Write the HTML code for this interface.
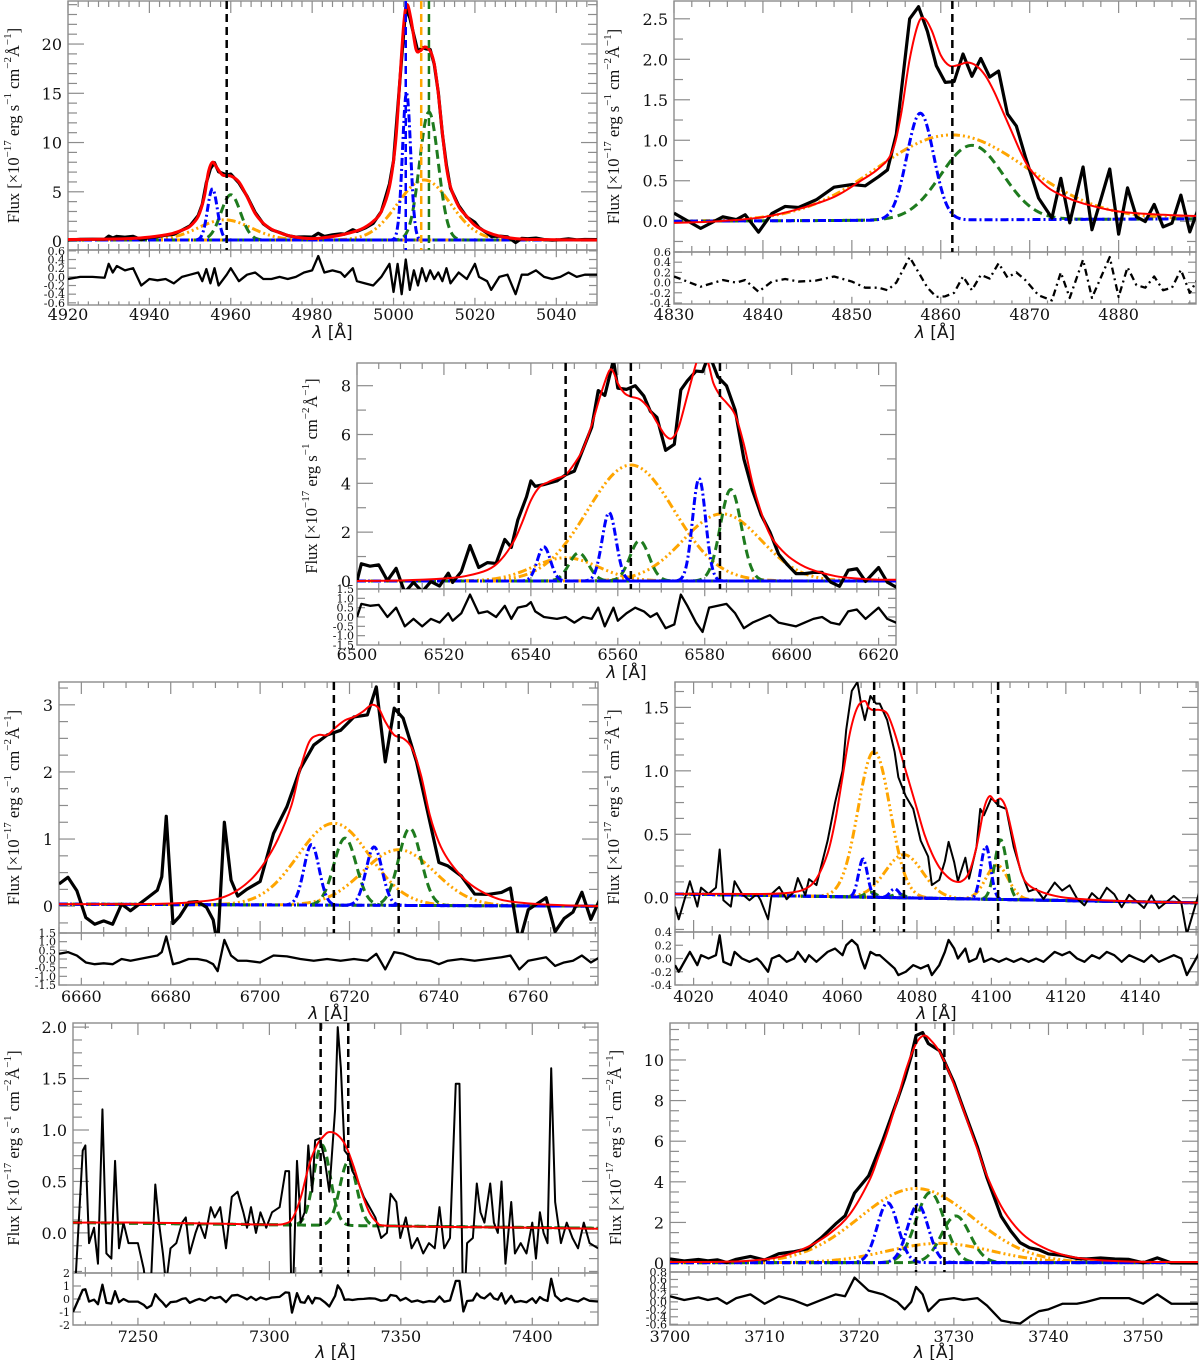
<!DOCTYPE html>
<html><head><meta charset="utf-8"><style>
html,body{margin:0;padding:0;background:#fff;}
svg{display:block;}
</style></head><body>
<svg id="chart" xmlns="http://www.w3.org/2000/svg" width="1200" height="1360" viewBox="0 0 1200 1360"></svg>
<script>
// ---------- Panel 1: [OIII] ----------
const p1ModelWl=[4920,4930,4935,4940,4945,4948,4950,4952,4953.5,4954.5,4955.5,4956.5,4958,4960,4962,4964,4966,4968,4970,4973,4976,4980,4984,4988,4992,4995,4997,4999,5000.5,5001.5,5002.5,5003.3,5004.3,5005.5,5006.5,5007.7,5009,5010,5011,5012,5013,5014,5016,5018,5020,5023,5026,5030,5035,5050];
const p1ModelFlux=[0.15,0.2,0.25,0.4,0.7,1.1,1.5,2.5,4.5,7,8.0,7.5,6.7,6.6,6.0,4.5,2.8,1.8,1.2,0.7,0.4,0.25,0.4,0.7,1.2,2.0,3.0,5.5,10,16,22,24,22.5,19.5,19.3,19.7,19.3,18,15,11,7.5,5.5,3.5,2.5,1.6,0.9,0.5,0.25,0.15,0.1];
const p1ResWl=[4920,4923,4926,4929,4930,4931,4932,4934,4936,4938,4940,4942,4944,4946,4948,4950,4952,4953,4954,4955,4956,4957,4959,4960,4962,4964,4966,4968,4970,4972,4974,4976,4978,4980,4981.5,4983,4985,4987,4988,4990,4991,4993,4995,4997,4999,5000,5001,5002,5003,5004,5005,5006,5007,5008,5009,5010,5011,5012,5013,5014,5016,5018,5020,5021,5023,5024,5026,5028,5030,5031.5,5033,5035,5037,5039,5041,5043,5045,5047,5050];
const p1Res=[-0.05,0,0,-0.02,0.3,0.1,0.25,0.15,0.2,-0.2,-0.05,-0.08,-0.05,-0.15,0,0.05,0.1,-0.1,0.18,-0.15,0.2,-0.2,0.05,0.2,-0.1,0.05,0.1,-0.05,-0.05,0,-0.05,0,0.1,0.15,0.48,0.1,0.15,0.1,0,0.2,-0.1,-0.15,-0.2,0,0.3,-0.35,0.3,-0.4,0.4,-0.3,0.15,-0.2,0.2,-0.1,0.15,-0.05,0.1,-0.1,0.2,-0.15,0.1,-0.05,0.3,0,-0.1,-0.3,0,0.05,-0.4,0.05,0.05,0.15,0,-0.05,0,0.1,0,0.05,0.05];
const p1BlueCen=[4955.5,5003.2], p1BlueAmp=[5.2,15], p1BlueSig=[1.2,1.0];
const p1GreenCen=[4960,5008.7], p1GreenAmp=[4.6,13], p1GreenSig=[2.4,2.3];
const p1OrangeCen=[4958.5,5007.5], p1OrangeAmp=[2.05,6.1], p1OrangeSig=[6.5,6.5];
const p1Cont=[0.1,0.1];
const p1Vlines=[4959,5003,5006.8,5008.7];

// ---------- Panel 2: Hbeta ----------
const p2ModelWl=[4830,4835,4840,4844,4848,4851,4853,4854.5,4855.5,4856.5,4857.5,4858.2,4859,4860,4861,4862,4863,4864,4865,4866,4867,4868,4869,4870,4872,4874,4876,4880,4885,4890,4895];
const p2ModelFlux=[-0.02,0,0.05,0.15,0.3,0.5,0.65,0.85,1.3,2.0,2.45,2.5,2.35,2.05,1.92,1.93,1.96,1.92,1.8,1.6,1.35,1.1,0.85,0.65,0.42,0.3,0.22,0.12,0.08,0.06,0.05];
const p2ResWl=[4830,4831.5,4833,4835.5,4837,4838,4839.5,4841,4842.5,4844,4846,4848,4850,4851.5,4853,4854,4855,4856.5,4857.5,4858.5,4859.5,4860.5,4861.5,4862.5,4863.5,4864.5,4865.5,4866.5,4867.5,4868.5,4869.5,4871,4872.5,4873.5,4874.5,4876,4877,4879,4880,4881,4882,4883,4884,4885,4886,4887,4888,4889];
const p2Res=[0.12,0.02,-0.08,0.05,0,0.05,-0.18,0.02,0.07,0.02,0.04,0.12,0.02,-0.1,-0.1,-0.15,0,0.5,0.2,-0.1,-0.28,-0.27,-0.2,0.12,-0.15,0.15,0.08,0.38,0.1,0.2,0.05,-0.25,-0.35,0.2,-0.3,0.45,-0.3,0.5,-0.28,0.3,-0.05,-0.1,0.12,-0.15,-0.1,0.25,-0.2,0.1];
const p2BlueCen=[4857.7], p2BlueAmp=[1.32], p2BlueSig=[1.5];
const p2GreenCen=[4863.5], p2GreenAmp=[0.92], p2GreenSig=[3.5];
const p2OrangeCen=[4861.2], p2OrangeAmp=[1.05], p2OrangeSig=[8.5];
const p2Cont=[0.0,0.03];
const p2Vlines=[4861.3];

// ---------- Panel 3: Halpha + [NII] ----------
const p3ModelWl=[6500,6510,6520,6525,6530,6533,6536,6538,6540,6542,6544,6546,6548,6550,6552,6554,6556,6558,6559,6560,6561.5,6563,6565,6567,6569,6571,6572.5,6574,6576,6578,6579,6580,6581,6582,6583.5,6585,6587,6589,6591,6593,6595,6597,6600,6604,6610,6615,6620,6625];
const p3ModelFlux=[0,0.02,0.1,0.2,0.45,0.85,1.6,2.4,3.3,3.85,4.05,4.2,4.35,4.8,5.4,6.4,7.6,8.6,8.55,8.1,7.7,7.55,7.45,7.1,6.5,5.95,5.85,6.3,7.6,8.9,9.4,9.35,8.8,8.1,7.6,7.3,6.8,5.6,4.0,2.8,1.9,1.4,0.9,0.5,0.2,0.1,0.05,0.05];
const p3ResWl=[6500,6501,6503,6505,6507,6509,6511,6513,6515,6517,6519,6521,6522,6524,6526,6528,6530,6532,6534,6535.5,6537,6539,6540,6541,6543,6546,6548,6550,6552,6554,6555.5,6557,6559,6560,6562,6564,6566,6567.5,6569,6571,6573,6574.5,6576,6578,6579.5,6581,6583,6585,6587,6589,6591,6593,6595,6597,6599,6601,6603,6605,6607,6609,6611,6613,6615,6617,6620,6622,6625];
const p3Res=[0,0.7,0.6,0.65,0,0.5,-0.5,-0.1,-0.5,-0.1,-0.3,0.2,-0.2,0.2,1.2,0.2,0.3,0,0.6,-0.1,0.5,0.6,0.8,0.3,0,-0.1,0,-0.3,0,-0.1,0.5,-0.5,0.5,-0.2,0.2,0.5,0.3,0,0.2,-0.6,-0.4,1.2,0.6,-0.3,-0.8,0.5,0.6,0.7,0.2,-0.6,-0.3,-0.1,0.1,-0.3,-0.4,-0.5,-0.3,-0.1,0,-0.3,-0.4,0.3,0.4,-0.1,0.5,-0.1,-0.4];
const p3BlueCen=[6543,6558,6578.7], p3BlueAmp=[1.4,2.8,4.2], p3BlueSig=[1.5,1.6,1.5];
const p3GreenCen=[6551,6565,6586], p3GreenAmp=[1.15,1.65,3.75], p3GreenSig=[2.2,2.2,2.4];
const p3OrangeCen=[6563,6548,6584], p3OrangeAmp=[4.75,0.95,2.75], p3OrangeSig=[10,7.5,9];
const p3Cont=[0,0];
const p3Vlines=[6548,6563,6583.5];

// ---------- Panel 4: [SII] ----------
const p4ModelWl=[6655,6670,6680,6685,6690,6694,6698,6701,6704,6707,6709,6711,6713,6715,6717,6719,6721,6723,6725,6726.5,6728,6730,6732,6734,6736,6738,6740,6742,6745,6748,6752,6756,6765,6776];
const p4ModelFlux=[0.03,0.03,0.04,0.06,0.1,0.2,0.4,0.65,1.0,1.5,2.05,2.45,2.55,2.55,2.67,2.77,2.82,2.9,3.0,2.95,2.75,2.55,2.5,2.35,1.95,1.35,0.95,0.7,0.45,0.28,0.14,0.07,0.02,0];
const p4ResWl=[6655,6657,6659,6661,6663,6665,6667,6669,6671,6673,6675,6677,6678,6679,6680.5,6682,6684,6686,6688,6689.5,6690.5,6692,6693.5,6695,6697,6700,6703,6706,6709,6712,6715,6718,6721,6724,6726,6728,6730,6732,6735,6738,6740,6742,6745,6748,6751,6754,6756,6758,6760,6762,6764,6766,6768,6770,6772,6774,6776];
const p4Res=[0.3,0.4,0.2,-0.2,-0.3,-0.25,-0.3,0,-0.1,0,0.1,0.2,0.4,1.3,-0.3,-0.2,0,0,-0.1,-0.3,-0.7,1.1,0.2,-0.1,-0.1,-0.2,0.2,0.15,0,-0.1,0,-0.1,0,-0.1,0.3,-0.6,0.4,0.3,0,-0.1,-0.3,-0.1,0,-0.1,0,0.1,0.2,-0.6,-0.1,0,0.1,-0.4,-0.2,-0.1,0.2,-0.2,0.1];
const p4BlueCen=[6711.5,6725.5], p4BlueAmp=[0.9,0.87], p4BlueSig=[1.7,1.8];
const p4GreenCen=[6719,6733.5], p4GreenAmp=[1.0,1.15], p4GreenSig=[2.5,2.5];
const p4OrangeCen=[6716.5,6731], p4OrangeAmp=[1.22,0.83], p4OrangeSig=[8,8];
const p4Cont=[0.03,0.0];
const p4Vlines=[6716.5,6731];

// ---------- Panel 5: [SII]4068 / Hdelta ----------
const p5ModelWl=[4015,4030,4040,4046,4050,4053,4056,4058,4060,4062,4064,4066,4067,4068,4070,4072,4074,4076,4078,4080,4082,4084,4086,4088,4090,4092,4094,4096,4098,4099.5,4101,4102.5,4104,4106,4108,4110,4114,4120,4130,4140,4156];
const p5ModelFlux=[0.03,0.03,0.03,0.04,0.07,0.15,0.35,0.6,0.95,1.3,1.5,1.55,1.5,1.48,1.48,1.45,1.3,1.1,0.9,0.7,0.5,0.35,0.24,0.17,0.13,0.13,0.2,0.4,0.7,0.8,0.76,0.78,0.7,0.45,0.2,0.1,0.04,0,-0.02,-0.03,-0.04];
const p5ResWl=[4015,4016,4018,4019,4020,4021,4022,4024,4026,4027,4028,4030,4031,4033,4035,4037,4038,4040,4041,4043,4045,4047,4048,4050,4051,4053,4054,4056,4058,4060,4061,4062.5,4064,4065,4066,4067.5,4069,4070,4072,4074,4075,4077,4079,4081,4083,4084,4086,4087.5,4088.5,4090,4091,4093,4094,4096,4097,4098,4100,4102,4104,4106,4108,4110,4112,4114,4115,4117,4119,4121,4123,4125,4127,4129,4131,4133,4135,4137,4139,4141,4143,4145,4147,4149,4151,4152.5,4154,4156];
const p5Res=[-0.1,-0.2,0,0.1,0,-0.1,0.05,0,0.05,0.35,-0.05,-0.1,0.1,0,-0.05,0,-0.05,-0.2,0,0.05,-0.05,0,0.1,-0.05,0.05,-0.05,0,0.1,0.15,0.05,0.2,0.28,0.2,0,-0.15,0.1,0.05,0.05,-0.05,-0.15,-0.25,-0.2,-0.1,-0.15,-0.1,-0.25,-0.1,0.1,0.28,0.15,0,0.15,-0.05,0,0.15,-0.05,0,-0.05,0,-0.05,0,-0.05,0,-0.05,0,0.1,0.05,0.1,0,-0.05,0.05,0,0.1,0.05,-0.05,0.05,0,-0.05,0.05,-0.05,0,0.05,0,-0.25,-0.1,0.1];
const p5BlueCen=[4065.5,4074,4098.5], p5BlueAmp=[0.3,0.07,0.42], p5BlueSig=[1.2,1.2,1.3];
const p5GreenCen=[4067.5,4075,4102.5], p5GreenAmp=[0.04,0.03,0.47], p5GreenSig=[1.5,1.5,1.6];
const p5OrangeCen=[4068.5,4076.5,4101.5], p5OrangeAmp=[1.15,0.34,0.27], p5OrangeSig=[4.3,5,3];
const p5Cont=[0.03,-0.04];
const p5Vlines=[4068.5,4076.5,4101.8];

// ---------- Panel 6: 7325 ----------
const p6ModelWl=[7225,7250,7280,7300,7306,7309,7312,7315,7318,7321,7323,7326,7329,7332,7335,7338,7341,7344,7360,7400,7425];
const p6ModelFlux=[0.1,0.1,0.09,0.08,0.09,0.15,0.35,0.65,0.85,0.95,0.98,0.95,0.85,0.65,0.4,0.2,0.1,0.07,0.06,0.05,0.04];
const p6ObsWl=[7225.3,7229,7230,7231.4,7233.3,7234.8,7236.5,7238,7239.9,7241.3,7242.8,7244.5,7246.4,7250,7252.2,7253.4,7255.1,7256.6,7258,7259.5,7260.7,7262.4,7264.6,7266.8,7268.2,7269.7,7271.9,7273.3,7275.5,7277.7,7279.2,7281.3,7283.5,7285.7,7287.9,7290.1,7291.5,7293,7294.9,7296.6,7298.8,7301,7303.9,7306.1,7307.5,7308.6,7310.5,7311.9,7313.4,7314.8,7316.3,7317.4,7319.2,7321.1,7322.8,7325,7326,7327.2,7328.6,7330.1,7331.6,7333.7,7335.9,7338.1,7340.3,7342.5,7344.7,7346.1,7348.3,7349.8,7351.9,7354.1,7356.3,7358.5,7360.7,7362.9,7364.7,7366.5,7368.7,7370.9,7372.3,7373.8,7375.2,7377.4,7378.9,7380.3,7381.8,7384,7385.4,7386.9,7388.3,7389.8,7392,7393.4,7395.6,7397.8,7400,7401.4,7402.9,7404.3,7405.8,7407.2,7408.7,7410.9,7413.1,7415.3,7417.4,7419.6,7421.8,7425];
const p6Obs=[-0.9,0.8,0.85,-0.1,0.05,-0.3,1.2,-0.2,-0.25,0.7,-0.15,0.1,-0.1,-0.1,-0.35,-0.6,-0.4,0.47,0.1,-0.2,-0.5,-0.15,-0.1,0.1,0.15,-0.2,0,0.1,-0.05,0.25,0.15,0.25,-0.15,0.35,0.4,0.2,0.05,0.25,0,0.2,0.05,0.2,0.25,0.6,0.6,-0.9,0.7,0.1,0.2,0.85,0.4,0.9,0.92,0.7,0.4,1.2,2.0,1.6,0.8,0.75,0.6,0.5,0.35,0.25,0.15,-0.05,0,0.38,0.3,-0.05,0.15,-0.15,-0.05,-0.2,-0.1,-0.15,0.25,-0.15,-0.05,1.45,1.45,-0.9,-0.1,-0.05,0.48,0.2,0.1,0.48,0.1,0,0.5,-0.3,0.3,-0.2,-0.1,-0.2,0.1,-0.25,0.2,0,-0.1,1.6,0.3,-0.1,0.1,-0.05,-0.15,0.1,-0.1,-0.15];
const p6BlueCen=[], p6BlueAmp=[], p6BlueSig=[];
const p6GreenCen=[7320,7330], p6GreenAmp=[0.78,0.62], p6GreenSig=[3.2,3.2];
const p6OrangeCen=[], p6OrangeAmp=[], p6OrangeSig=[];
const p6Cont=[0.1,0.045];
const p6Vlines=[7319.5,7330];

// ---------- Panel 7: [OII]3727 ----------
const p7ModelWl=[3700,3705,3708,3711,3713,3715,3717,3719,3721,3722,3723,3724,3725,3726,3726.8,3727.5,3728.5,3729.5,3730.5,3731.5,3732.5,3733.5,3735,3736.5,3738,3740,3742,3744,3747,3750,3756];
const p7ModelFlux=[0.05,0.06,0.1,0.25,0.5,0.9,1.5,2.4,4.0,5.2,6.5,8.0,9.6,10.8,11.2,11.0,10.4,9.4,8.2,6.9,5.6,4.3,2.8,1.8,1.15,0.65,0.35,0.2,0.1,0.06,0.05];
const p7ResWl=[3700,3701.5,3703,3704,3705,3706,3707,3708.5,3710,3711.5,3713,3714.5,3716,3717.5,3718.5,3719.5,3721,3722.5,3724,3724.8,3725.5,3726,3726.7,3727.3,3728.5,3730,3731,3732.5,3733.5,3735,3736,3737,3738,3739,3740,3741.5,3743,3744,3745.5,3747,3748.5,3750,3751.5,3753,3755.8];
const p7Res=[0.15,0.05,0.12,0.05,0.1,-0.05,0.1,0.2,-0.05,0.15,0.05,-0.1,0.05,0.2,0.15,0.65,0.3,0.2,0,-0.2,0,0.4,0.2,-0.25,0.05,0.1,0.05,0.1,-0.1,-0.5,-0.55,-0.58,-0.4,-0.25,-0.2,-0.05,-0.05,0,0.1,0.1,0.1,-0.05,0.2,-0.05,-0.05];
const p7BlueCen=[3723,3726.2], p7BlueAmp=[2.95,2.85], p7BlueSig=[1.1,1.1];
const p7GreenCen=[3727.5,3730.2], p7GreenAmp=[3.45,2.3], p7GreenSig=[1.5,1.5];
const p7OrangeCen=[3726,3728.5], p7OrangeAmp=[3.65,0.95], p7OrangeSig=[6,5.5];
const p7Cont=[0.02,0.02];
const p7Vlines=[3726,3729];

// ---------- axis tick values ----------
const p1XTicks=[4920,4940,4960,4980,5000,5020,5040], p1YTicks=[0,5,10,15,20], p1RTicks=[0.6,0.4,0.2,0.0,-0.2,-0.4,-0.6];
const p2XTicks=[4830,4840,4850,4860,4870,4880], p2YTicks=[0,0.5,1,1.5,2,2.5], p2RTicks=[0.6,0.4,0.2,0.0,-0.2,-0.4];
const p3XTicks=[6500,6520,6540,6560,6580,6600,6620], p3YTicks=[0,2,4,6,8], p3RTicks=[1.5,1.0,0.5,0.0,-0.5,-1.0,-1.5];
const p4XTicks=[6660,6680,6700,6720,6740,6760], p4YTicks=[0,1,2,3], p4RTicks=[1.5,1.0,0.5,0.0,-0.5,-1.0,-1.5];
const p5XTicks=[4020,4040,4060,4080,4100,4120,4140], p5YTicks=[0,0.5,1,1.5], p5RTicks=[0.4,0.2,0.0,-0.2,-0.4];
const p6XTicks=[7250,7300,7350,7400], p6YTicks=[0,0.5,1,1.5,2], p6RTicks=[2,1,0,-1,-2];
const p7XTicks=[3700,3710,3720,3730,3740,3750], p7YTicks=[0,2,4,6,8,10], p7RTicks=[0.8,0.6,0.4,0.2,0.0,-0.2,-0.4,-0.6];

const NS='http://www.w3.org/2000/svg';
const svg=document.getElementById('chart');
function mk(tag,attrs,parent){const e=document.createElementNS(NS,tag);for(const k in attrs)e.setAttribute(k,attrs[k]);(parent||svg).appendChild(e);return e;}
function gauss(x,c,a,s){return a*Math.exp(-0.5*((x-c)/s)*((x-c)/s));}
function interp(xs,ys,x){if(x<=xs[0])return ys[0];for(let i=1;i<xs.length;i++){if(x<=xs[i]){const t=(x-xs[i-1])/(xs[i]-xs[i-1]);return ys[i-1]+t*(ys[i]-ys[i-1]);}}return ys[ys.length-1];}
function smoothPath(pts){let d='M'+pts[0][0].toFixed(2)+','+pts[0][1].toFixed(2);for(let i=0;i<pts.length-1;i++){const p0=pts[i-1]||pts[i],p1=pts[i],p2=pts[i+1],p3=pts[i+2]||p2;const c1x=p1[0]+(p2[0]-p0[0])/6,c1y=p1[1]+(p2[1]-p0[1])/6,c2x=p2[0]-(p3[0]-p1[0])/6,c2y=p2[1]-(p3[1]-p1[1])/6;d+=' C'+c1x.toFixed(2)+','+c1y.toFixed(2)+' '+c2x.toFixed(2)+','+c2y.toFixed(2)+' '+p2[0].toFixed(2)+','+p2[1].toFixed(2);}return d;}
function fmt(v,dec){const s=Math.abs(v).toFixed(dec);return (v<0?'-':'')+s;}

const panels=[
 {id:'oiii',l:68,r:597,t:1,mb:250,rb:305,x0:4920,x1:5050,y0:-0.91,y1:24.37,r0:-0.65,r1:0.62,xt:p1XTicks,xm:2.5,yt:p1YTicks,ym:1,ydec:0,rt:p1RTicks,rdec:1,lx:15,tickY:320,lamY:338,
  mw:p1ModelWl,mf:p1ModelFlux,rw:p1ResWl,rv:p1Res,bc:p1BlueCen,ba:p1BlueAmp,bs:p1BlueSig,gc:p1GreenCen,ga:p1GreenAmp,gs:p1GreenSig,oc:p1OrangeCen,oa:p1OrangeAmp,os:p1OrangeSig,cont:p1Cont,vl:p1Vlines,vcol:['#000','#0000ff','#ffa500','#1a7a1a'],redW:3},
 {id:'hbeta',l:674,r:1196,t:1,mb:252,rb:304,x0:4830,x1:4888.7,y0:-0.38,y1:2.72,r0:-0.42,r1:0.6,xt:p2XTicks,xm:2,yt:p2YTicks,ym:0.25,ydec:1,rt:p2RTicks,rdec:1,lx:615,tickY:320,lamY:338,
  mw:p2ModelWl,mf:p2ModelFlux,rw:p2ResWl,rv:p2Res,bc:p2BlueCen,ba:p2BlueAmp,bs:p2BlueSig,gc:p2GreenCen,ga:p2GreenAmp,gs:p2GreenSig,oc:p2OrangeCen,oa:p2OrangeAmp,os:p2OrangeSig,cont:p2Cont,vl:p2Vlines,vcol:['#000'],resDash:'7,4,2,4',redW:2},
 {id:'halpha',l:357,r:896,t:363,mb:589,rb:645,x0:6500,x1:6624,y0:-0.33,y1:8.93,r0:-1.5,r1:1.5,xt:p3XTicks,xm:5,yt:p3YTicks,ym:1,ydec:0,rt:p3RTicks,rdec:1,lx:313,tickY:660,lamY:678,
  mw:p3ModelWl,mf:p3ModelFlux,rw:p3ResWl,rv:p3Res,bc:p3BlueCen,ba:p3BlueAmp,bs:p3BlueSig,gc:p3GreenCen,ga:p3GreenAmp,gs:p3GreenSig,oc:p3OrangeCen,oa:p3OrangeAmp,os:p3OrangeSig,cont:p3Cont,vl:p3Vlines,vcol:['#000','#000','#000'],redW:2},
 {id:'sii',l:59,r:598,t:682,mb:933,rb:985,x0:6655,x1:6775.6,y0:-0.40,y1:3.34,r0:-1.5,r1:1.5,xt:p4XTicks,xm:5,yt:p4YTicks,ym:0.25,ydec:0,rt:p4RTicks,rdec:1,lx:15,tickY:1002,lamY:1019,
  mw:p4ModelWl,mf:p4ModelFlux,rw:p4ResWl,rv:p4Res,bc:p4BlueCen,ba:p4BlueAmp,bs:p4BlueSig,gc:p4GreenCen,ga:p4GreenAmp,gs:p4GreenSig,oc:p4OrangeCen,oa:p4OrangeAmp,os:p4OrangeSig,cont:p4Cont,vl:p4Vlines,vcol:['#000','#000'],redW:2},
 {id:'hdelta',l:675,r:1198,t:682,mb:932,rb:985,x0:4015,x1:4155.5,y0:-0.27,y1:1.70,r0:-0.4,r1:0.4,xt:p5XTicks,xm:5,yt:p5YTicks,ym:0.125,ydec:1,rt:p5RTicks,rdec:1,lx:615,tickY:1002,lamY:1019,
  mw:p5ModelWl,mf:p5ModelFlux,rw:p5ResWl,rv:p5Res,bc:p5BlueCen,ba:p5BlueAmp,bs:p5BlueSig,gc:p5GreenCen,ga:p5GreenAmp,gs:p5GreenSig,oc:p5OrangeCen,oa:p5OrangeAmp,os:p5OrangeSig,cont:p5Cont,vl:p5Vlines,vcol:['#000','#000','#000'],obsW:2,redW:2},
 {id:'oii7325',l:73,r:598,t:1023,mb:1273,rb:1325,x0:7225.3,x1:7425,y0:-0.39,y1:2.04,r0:-2,r1:2,xt:p6XTicks,xm:10,yt:p6YTicks,ym:0.125,ydec:1,rt:p6RTicks,rdec:0,lx:15,tickY:1342,lamY:1358,
  mw:p6ModelWl,mf:p6ModelFlux,ow:p6ObsWl,ov:p6Obs,bc:p6BlueCen,ba:p6BlueAmp,bs:p6BlueSig,gc:p6GreenCen,ga:p6GreenAmp,gs:p6GreenSig,oc:p6OrangeCen,oa:p6OrangeAmp,os:p6OrangeSig,cont:p6Cont,vl:p6Vlines,vcol:['#000','#000'],obsW:2,redW:2},
 {id:'oii3727',l:670,r:1198,t:1023,mb:1272,rb:1325,x0:3700,x1:3755.8,y0:-0.44,y1:11.82,r0:-0.62,r1:0.8,xt:p7XTicks,xm:2,yt:p7YTicks,ym:0.5,ydec:0,rt:p7RTicks,rdec:1,lx:617,tickY:1342,lamY:1358,
  mw:p7ModelWl,mf:p7ModelFlux,rw:p7ResWl,rv:p7Res,bc:p7BlueCen,ba:p7BlueAmp,bs:p7BlueSig,gc:p7GreenCen,ga:p7GreenAmp,gs:p7GreenSig,oc:p7OrangeCen,oa:p7OrangeAmp,os:p7OrangeSig,cont:p7Cont,vl:p7Vlines,vcol:['#000','#000'],redW:2}
];

const defs=mk('defs',{});
panels.forEach(P=>{
 const sx=v=>P.l+(v-P.x0)/(P.x1-P.x0)*(P.r-P.l);
 const sy=v=>P.mb-(v-P.y0)/(P.y1-P.y0)*(P.mb-P.t);
 const sr=v=>P.rb-(v-P.r0)/(P.r1-P.r0)*(P.rb-P.mb);
 const cont=x=>P.cont[0]+(x-P.x0)/(P.x1-P.x0)*(P.cont[1]-P.cont[0]);
 const model=x=>interp(P.mw,P.mf,x);
 const g=mk('g',{});
 
 
 const cpM=mk('clipPath',{id:'cm-'+P.id},defs);mk('rect',{x:P.l,y:P.t,width:P.r-P.l,height:P.mb-P.t},cpM);
 const cpR=mk('clipPath',{id:'cr-'+P.id},defs);mk('rect',{x:P.l,y:P.mb,width:P.r-P.l,height:P.rb-P.mb},cpR);
 const tk=mk('g',{stroke:'#8c8c8c','stroke-width':1.2},g);
 
 
 const majX=P.xt;
 for(let v=Math.ceil(P.x0/P.xm)*P.xm;v<=P.x1+1e-9;v+=P.xm){
   const X=sx(v);const isMaj=majX.some(m=>Math.abs(m-v)<1e-6);const L=isMaj?12:6;
   mk('line',{x1:X,y1:P.t,x2:X,y2:P.t+L},tk);mk('line',{x1:X,y1:P.mb,x2:X,y2:P.mb-L},tk);
   mk('line',{x1:X,y1:P.mb,x2:X,y2:P.mb+L*0.6},tk);mk('line',{x1:X,y1:P.rb,x2:X,y2:P.rb-L*0.6},tk);
 }
 for(let v=Math.ceil(P.y0/P.ym)*P.ym;v<=P.y1+1e-9;v+=P.ym){
   const Y=sy(v);const isMaj=P.yt.some(m=>Math.abs(m-v)<1e-6);const L=isMaj?16:9;
   mk('line',{x1:P.l,y1:Y,x2:P.l+L,y2:Y},tk);mk('line',{x1:P.r,y1:Y,x2:P.r-L,y2:Y},tk);
 }
 P.rt.forEach(v=>{const Y=sr(v);mk('line',{x1:P.l,y1:Y,x2:P.l+8,y2:Y},tk);mk('line',{x1:P.r,y1:Y,x2:P.r-8,y2:Y},tk);});
 const bm=mk('rect',{x:P.l,y:P.t,width:P.r-P.l,height:P.mb-P.t,fill:'none',stroke:'#8c8c8c','stroke-width':1.4},g);
 
 
 const br=mk('rect',{x:P.l,y:P.mb,width:P.r-P.l,height:P.rb-P.mb,fill:'none',stroke:'#8c8c8c','stroke-width':1.4},g);
 
 
 P.xt.forEach(v=>{const t=mk('text',{x:sx(v),y:P.tickY,'text-anchor':'middle','font-family':'DejaVu Serif, Liberation Serif, serif','font-size':16,fill:'#111'},g);t.textContent=v;
   
   });
 P.yt.forEach(v=>{const t=mk('text',{x:P.l-6,y:sy(v)+6,'text-anchor':'end','font-family':'DejaVu Serif, Liberation Serif, serif','font-size':16,fill:'#111'},g);t.textContent=fmt(v,P.ydec);
   
   });
 P.rt.forEach(v=>{const t=mk('text',{x:P.l-3,y:sr(v)+4,'text-anchor':'end','font-family':'DejaVu Serif, Liberation Serif, serif','font-size':11,fill:'#111'},g);t.textContent=fmt(v,P.rdec);
   
   });
 const yl=mk('text',{x:P.lx,y:(P.t+P.mb)/2,transform:'rotate(-90 '+P.lx+' '+((P.t+P.mb)/2)+')','text-anchor':'middle','dominant-baseline':'middle','font-family':'Liberation Serif, serif','font-size':16.5,fill:'#111'},g);
 yl.innerHTML='Flux [×10<tspan dy="-7" font-size="11">−17</tspan><tspan dy="7"> erg s</tspan><tspan dy="-7" font-size="11">−1</tspan><tspan dy="7"> cm</tspan><tspan dy="-7" font-size="11">−2</tspan><tspan dy="7">Å</tspan><tspan dy="-7" font-size="11">−1</tspan><tspan dy="7">]</tspan>';
 
 
 const xl=mk('text',{x:(P.l+P.r)/2,y:P.lamY,'text-anchor':'middle','font-family':'DejaVu Sans, Liberation Sans, sans-serif','font-size':17,fill:'#111'},g);
 xl.innerHTML='<tspan font-style="italic">λ</tspan> [Å]';
 
 
 const gm=mk('g',{'clip-path':'url(#cm-'+P.id+')'},g);
 
 
 const N=500;
 function comp(cs,as,ss,color,dash,name){
   cs.forEach((c,i)=>{const pts=[];for(let k=0;k<=N;k++){const x=P.x0+(P.x1-P.x0)*k/N;pts.push(sx(x).toFixed(2)+','+sy(cont(x)+gauss(x,c,as[i],ss[i])).toFixed(2));}
     const pl=mk('polyline',{points:pts.join(' '),fill:'none',stroke:color,'stroke-width':3,'stroke-dasharray':dash},gm);
     
     });
 }
 comp(P.oc,P.oa,P.os,'#ffa500','9,3,2,3,2,3,2,3','orange-broad-component');
 comp(P.gc,P.ga,P.gs,'#1e7b1e','9,5','green-component');
 comp(P.bc,P.ba,P.bs,'#0000ff','8,3,2,3','blue-narrow-component');
 let ow,ov,rw,rv;
 if(P.ow){ow=P.ow;ov=P.ow.map((x,i)=>P.ov[i]);rw=P.ow;rv=P.ow.map((x,i)=>P.ov[i]-model(x));}
 else{rw=P.rw;rv=P.rw.map((x,i)=>P.rv[i]);ow=P.rw;ov=P.rw.map((x,i)=>model(x)+P.rv[i]);}
 const obs=mk('polyline',{points:ow.map((x,i)=>sx(x).toFixed(2)+','+sy(ov[i]).toFixed(2)).join(' '),fill:'none',stroke:'#000','stroke-width':P.obsW||3.2,'stroke-linejoin':'round'},gm);
 
 
 const red=mk('path',{d:smoothPath(P.mw.map((x,i)=>[sx(x),sy(P.mf[i])])),fill:'none',stroke:'#ff0000','stroke-width':P.redW},gm);
 
 
 P.vl.forEach((v,i)=>{const ln=mk('line',{x1:sx(v),y1:P.t,x2:sx(v),y2:P.mb,stroke:P.vcol[i],'stroke-width':2.5,'stroke-dasharray':'8,5'},g);
   
   });
 const gr=mk('g',{'clip-path':'url(#cr-'+P.id+')'},g);
 
 
 const rl=mk('polyline',{points:rw.map((x,i)=>sx(x).toFixed(2)+','+sr(rv[i]).toFixed(2)).join(' '),fill:'none',stroke:'#000','stroke-width':2.3,'stroke-linejoin':'round'},gr);
 if(P.resDash)rl.setAttribute('stroke-dasharray',P.resDash);
 
 
});
</script>
</body></html>
